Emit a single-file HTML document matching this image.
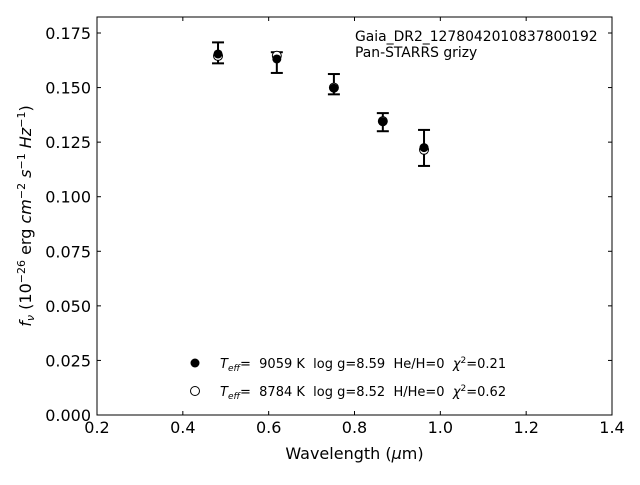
<!DOCTYPE html>
<html><head><meta charset="utf-8"><style>
body{margin:0;background:#fff;}
svg text{font-family:"DejaVu Sans","Liberation Sans",sans-serif;white-space:pre;}
</style></head><body>
<svg id="chart" width="640" height="480" xmlns="http://www.w3.org/2000/svg" xml:space="preserve">
<rect x="0" y="0" width="640" height="480" fill="#fff"/>
<g id="marks"></g>
<rect x="97" y="17" width="515" height="398" fill="none" stroke="#000" stroke-width="1"/>
<g id="axes"></g>
<text x="354.5" y="459" font-size="16" text-anchor="middle">Wavelength (<tspan font-style="italic">μ</tspan>m)</text>
<text transform="translate(31,216) rotate(-90)" font-size="16" text-anchor="middle"><tspan font-style="italic">f<tspan font-size="11" dy="3">ν</tspan></tspan><tspan dy="-3"> (10</tspan><tspan font-size="11" dy="-6">−26</tspan><tspan dy="6"> erg </tspan><tspan font-style="italic">cm</tspan><tspan font-size="11" dy="-6">−2</tspan><tspan dy="6" font-style="italic"> s</tspan><tspan font-size="11" dy="-6">−1</tspan><tspan dy="6" font-style="italic"> Hz</tspan><tspan font-size="11" dy="-6">−1</tspan><tspan dy="6">)</tspan></text>
<text x="355" y="41" font-size="13.9">Gaia_DR2_1278042010837800192</text>
<text x="355" y="57" font-size="13.9">Pan-STARRS grizy</text>
<g>
<circle cx="195" cy="363" r="4.5" fill="#000"/>
<text x="220" y="368" font-size="13"><tspan font-style="italic">T<tspan font-size="9" dy="3">eff</tspan></tspan><tspan dy="-3">=  9059 K  log g=8.59  He/H=0  </tspan><tspan font-style="italic">χ</tspan><tspan font-size="9" dy="-5">2</tspan><tspan dy="5">=0.21</tspan></text>
<circle cx="195" cy="391" r="4.5" fill="#fff" stroke="#000" stroke-width="1"/>
<text x="220" y="396" font-size="13"><tspan font-style="italic">T<tspan font-size="9" dy="3">eff</tspan></tspan><tspan dy="-3">=  8784 K  log g=8.52  H/He=0  </tspan><tspan font-style="italic">χ</tspan><tspan font-size="9" dy="-5">2</tspan><tspan dy="5">=0.62</tspan></text>
</g>
</svg>
<script>
const wavelengths=[0.482,0.619,0.752,0.866,0.962];
const observed=[0.1654,0.1631,0.1497,0.1344,0.1225];
const errHigh=[0.1707,0.1662,0.1562,0.1383,0.1306];
const errLow=[0.1611,0.1567,0.1469,0.1300,0.1141];
const modelHe=[0.1645,0.1646,0.1500,0.1346,0.1215];
const xTicks=["0.2","0.4","0.6","0.8","1.0","1.2","1.4"];
const yTicks=["0.000","0.025","0.050","0.075","0.100","0.125","0.150","0.175"];
const NS="http://www.w3.org/2000/svg";
const X=v=>97+(v-0.2)*(515/1.2);
const Y=v=>415-v*(382/0.175);
function mk(t,a,p){const e=document.createElementNS(NS,t);for(const k in a)e.setAttribute(k,a[k]);p.appendChild(e);return e;}
const axes=document.getElementById('axes'),marks=document.getElementById('marks');
xTicks.forEach(s=>{const v=parseFloat(s),x=X(v);
const t=mk('line',{x1:x,x2:x,y1:415,y2:411,stroke:'#000'},axes);

const t2=mk('line',{x1:x,x2:x,y1:17,y2:21,stroke:'#000'},axes);

const l=mk('text',{x:x,y:433,'font-size':16,'text-anchor':'middle'},axes);l.textContent=s;
});
yTicks.forEach(s=>{const v=parseFloat(s),y=Y(v);
const t=mk('line',{x1:97,x2:101,y1:y,y2:y,stroke:'#000'},axes);

const t2=mk('line',{x1:608,x2:612,y1:y,y2:y,stroke:'#000'},axes);

const l=mk('text',{x:91,y:y+6,'font-size':16,'text-anchor':'end'},axes);l.textContent=s;
});
wavelengths.forEach((w,i)=>{const x=X(w);
const g=mk('g',{},marks);

mk('line',{x1:x,x2:x,y1:Y(errHigh[i]),y2:Y(errLow[i]),stroke:'#000','stroke-width':2},g);
mk('line',{x1:x-6,x2:x+6,y1:Y(errHigh[i]),y2:Y(errHigh[i]),stroke:'#000','stroke-width':2},g);
mk('line',{x1:x-6,x2:x+6,y1:Y(errLow[i]),y2:Y(errLow[i]),stroke:'#000','stroke-width':2},g);
const o=mk('circle',{cx:x,cy:Y(modelHe[i]),r:4.5,fill:'#fff',stroke:'#000'},marks);

const f=mk('circle',{cx:x,cy:Y(observed[i]),r:4.5,fill:'#000'},marks);
});
</script>
</body></html>
